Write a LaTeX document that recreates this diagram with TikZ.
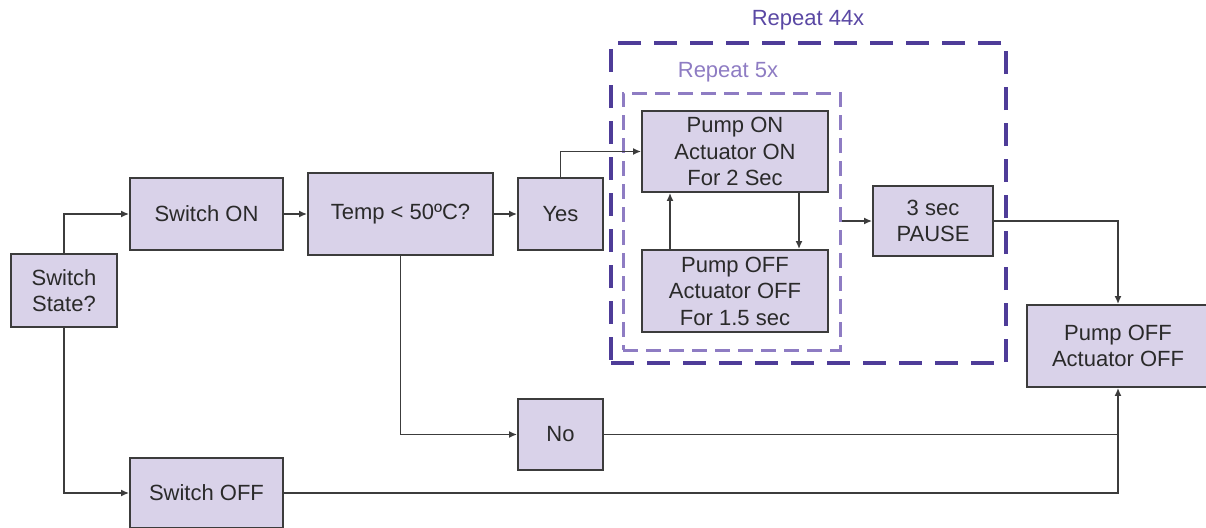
\documentclass[tikz,border=0pt]{standalone}
\usepackage{fontspec}
\setmainfont{Liberation Sans}
\usetikzlibrary{arrows.meta}
\definecolor{boxfill}{HTML}{D9D2E9}
\definecolor{boxline}{HTML}{3C3C3C}
\definecolor{txt}{HTML}{2A2A2A}
\definecolor{outerc}{HTML}{4E3C98}
\definecolor{innerc}{HTML}{8E7CC3}
\definecolor{lbl44}{HTML}{5A48A4}
\tikzset{
  flowbox/.style={draw=boxline, fill=boxfill, line width=1.8pt, inner sep=1pt,
    align=center, text=txt, font=\fontsize{22}{26.5}\selectfont},
  arr/.style={draw=boxline, line width=1.6pt, -{Latex[length=8pt,width=7pt]}},
  ln/.style={draw=boxline, line width=1.6pt},
  outerbox/.style={draw=outerc, line width=3.5pt, dash pattern=on 23pt off 13pt, inner sep=0pt},
  innerbox/.style={draw=innerc, line width=3pt, dash pattern=on 15pt off 8pt, inner sep=0pt},
  lbl/.style={font=\fontsize{22}{26}\selectfont, inner sep=0pt}
}
\begin{document}
\begin{tikzpicture}[x=1pt,y=-1pt]
\useasboundingbox (0,0) rectangle (1206,527);
% dashed groups
\node[outerbox, minimum width=395pt, minimum height=320pt] (outer) at (808.5,203) {};
\node[innerbox, minimum width=217pt, minimum height=257pt] (inner) at (731.5,221.5) {};
\node[lbl, text=lbl44] (l44) at (808,20) {Repeat 44x};
\node[lbl, text=innerc] (l5) at (728,72) {Repeat 5x};
% boxes
\node[flowbox, minimum width=106pt, minimum height=73pt] (ss) at (64,290.5) {Switch\\State?};
\node[flowbox, minimum width=153pt, minimum height=72pt] (son) at (206.5,214) {Switch ON};
\node[flowbox, minimum width=185pt, minimum height=82pt] (temp) at (400.5,214) {Temp < 50ºC?};
\node[flowbox, minimum width=85pt, minimum height=72pt] (yes) at (560.5,214) {Yes};
\node[flowbox, minimum width=186pt, minimum height=81pt] (pon) at (735,151.5) {Pump ON\\Actuator ON\\For 2 Sec};
\node[flowbox, minimum width=186pt, minimum height=82pt] (poff) at (735,291) {Pump OFF\\Actuator OFF\\For 1.5 sec};
\node[flowbox, minimum width=120pt, minimum height=70pt] (pause) at (933,221) {3 sec\\PAUSE};
\node[flowbox, minimum width=182pt, minimum height=82pt] (fin) at (1118,346) {Pump OFF\\Actuator OFF};
\node[flowbox, minimum width=85pt, minimum height=71pt] (no) at (560.5,434.5) {No};
\node[flowbox, minimum width=153pt, minimum height=70pt] (soff) at (206.5,493) {Switch OFF};
% connectors
\draw[arr] (ss.north) |- (son.west);
\draw[arr] (ss.south) |- (soff.west);
\draw[arr] (son.east) -- (temp.west);
\draw[arr] (temp.east) -- (yes.west);
\draw[arr] (temp.south) |- (no.west);
\draw[arr] (yes.north) |- (pon.west);
\draw[arr] ([xshift=-65pt]poff.north) -- ([xshift=-65pt]pon.south);
\draw[arr] ([xshift=64pt]pon.south) -- ([xshift=64pt]poff.north);
\draw[arr] (inner.east |- pause.west) -- (pause.west);
\draw[arr] (pause.east) -| (fin.north);
\draw[ln] (no.east) -- (no.east -| fin.south);
\draw[arr] (soff.east) -| (fin.south);
\end{tikzpicture}
\end{document}
